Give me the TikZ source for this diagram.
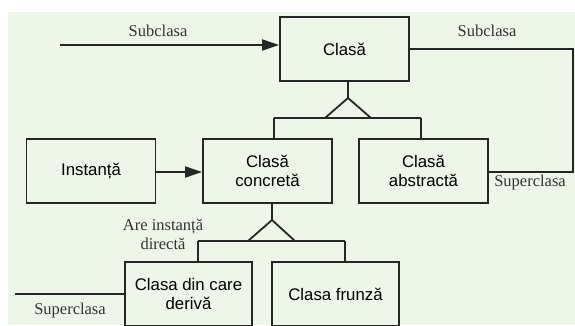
\documentclass[tikz,border=0pt]{standalone}
\usepackage{fontspec}
\setmainfont{Liberation Serif}
\newfontfamily\boxfont{Liberation Sans}
\usetikzlibrary{arrows.meta}
\definecolor{bgpanel}{RGB}{238,245,233}
\begin{document}
\begin{tikzpicture}[x=1pt,y=-1pt,
  line width=1.8pt,
  classbox/.style={draw=black!85, rectangle, minimum width=129pt, minimum height=64pt,
    inner sep=0pt, align=center, font=\boxfont\fontsize{16.8}{19.5}\selectfont},
  rolelabel/.style={inner sep=0pt, align=center, text=black!80,
    font=\fontsize{16.5}{19}\selectfont},
  link/.style={draw=black!85},
  arrowlink/.style={draw=black!85, -{Triangle[length=17pt,width=11pt]}},
  genmark/.style={draw=black!85, line join=miter}
]
\useasboundingbox (0,0) rectangle (575,325);
\fill[white] (0,0) rectangle (575,325);
\fill[bgpanel] (8,12) rectangle (575,325);

% classes
\node[classbox] (clasa)     at (344.5,49)  {Clasă};
\node[classbox] (instanta)  at (91,171)    {Instanță};
\node[classbox] (concreta)  at (267.5,171) {Clasă\\concretă};
\node[classbox] (abstracta) at (423.5,171) {Clasă\\abstractă};
\node[classbox, minimum width=127pt] (derivata) at (188.5,294) {Clasa din care\\derivă};
\node[classbox, minimum width=127pt] (frunza)   at (335.5,294) {Clasa frunză};

% generalisation of Clasă
\coordinate (apexA) at (348,98);
\coordinate (baseAL) at (325,118);
\coordinate (baseAR) at (371,118);
\coordinate (busAL) at (274,118);
\coordinate (busAR) at (421,118);
\draw[link] (clasa.south -| apexA) -- (apexA);
\draw[genmark] (apexA) -- (baseAL) -- (baseAR) -- cycle;
\draw[link] (busAL) -- (busAR);
\draw[link] (busAL) -- (concreta.north -| busAL);
\draw[link] (busAR) -- (abstracta.north -| busAR);

% generalisation of Clasă concretă
\coordinate (apexB) at (272,220);
\coordinate (baseBL) at (248,241);
\coordinate (baseBR) at (295,241);
\coordinate (busBL) at (198,241);
\coordinate (busBR) at (345,241);
\draw[link] (concreta.south -| apexB) -- (apexB);
\draw[genmark] (apexB) -- (baseBL) -- (baseBR) -- cycle;
\draw[link] (busBL) -- (busBR);
\draw[link] (busBL) -- (derivata.north -| busBL);
\draw[link] (busBR) -- (frunza.north -| busBR);

% subclass / superclass links
\coordinate (subIn) at (60,45);
\draw[arrowlink] (subIn) -- (clasa.west |- subIn);
\coordinate (loopTop) at (573,49);
\coordinate (loopBot) at (573,172);
\draw[link] (clasa.east |- loopTop) -- (loopTop) -- (loopBot) -- (abstracta.east |- loopBot);
\draw[arrowlink] (instanta.east |- 0,172) -- (concreta.west |- 0,172);
\coordinate (superOut) at (15,294);
\draw[link] (superOut) -- (derivata.west);

% role labels
\node[rolelabel] (lblSubL)  at (158,31)  {Subclasa};
\node[rolelabel] (lblSubR)  at (487,31)  {Subclasa};
\node[rolelabel] (lblSupR)  at (530,183) {Superclasa};
\node[rolelabel] (lblSupL)  at (70,311)  {Superclasa};
\node[rolelabel] (lblDirect) at (163,234) {Are instanță\\directă};
\end{tikzpicture}
\end{document}
